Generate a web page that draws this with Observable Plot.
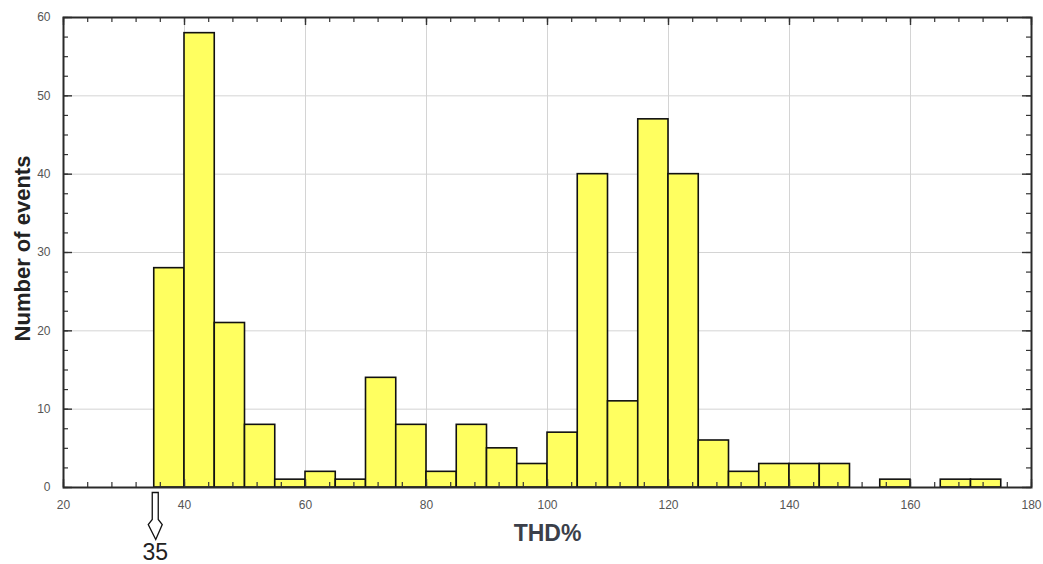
<!DOCTYPE html>
<html>
<head>
<meta charset="utf-8">
<script src="https://cdn.jsdelivr.net/npm/d3@7"></script>
<script src="https://cdn.jsdelivr.net/npm/@observablehq/plot@0.6"></script>
<style>
  html, body { margin: 0; padding: 0; background: #fff; }
</style>
</head>
<body>
<div id="chart"></div>
<script>
// ---- Data ----
const binStart = [35, 40, 45, 50, 55, 60, 65, 70, 75, 80, 85, 90, 95, 100, 105, 110, 115, 120, 125, 130, 135, 140, 145, 150, 155, 160, 165, 170];
const counts   = [28, 58, 21,  8,  1,  2,  1, 14,  8,  2,  8,  5,  3,   7,  40,  11,  47,  40,   6,   2,   3,   3,   3,   0,   1,   0,   1,   1];
const binWidth = 5;
const xTickLabels = [20, 40, 60, 80, 100, 120, 140, 160, 180];
const yTickLabels = [0, 10, 20, 30, 40, 50, 60];
const markedValue = 35;
const xTitle = "THD%";
const yTitle = "Number of events";

const bins = binStart
  .map((s, i) => ({x1: s, x2: s + binWidth, y: counts[i]}))
  .filter(d => d.y > 0);

const W = 1043, H = 564;
const mL = 63, mR = 12, mT = 17, mB = 77;
const fw = W - mL - mR, fh = H - mT - mB;

const xMinor = d3.range(20, 180.001, 4);
const yMinor = d3.range(0, 60.001, 2.5);

// hollow down arrow symbol (pixel shape around its anchor)
const hollowArrow = {
  draw(ctx) {
    ctx.moveTo(-3, -24);
    ctx.lineTo(3, -24);
    ctx.lineTo(3, 3);
    ctx.lineTo(7, 8);
    ctx.lineTo(0.5, 23);
    ctx.lineTo(-7, 8);
    ctx.lineTo(-3, 3);
    ctx.closePath();
  }
};

const tickStroke = "#333";

const chart = Plot.plot({
  width: W,
  height: H,
  marginLeft: mL,
  marginRight: mR,
  marginTop: mT,
  marginBottom: mB,
  style: {fontFamily: "'Liberation Sans', Arial, sans-serif", background: "#fff", overflow: "visible"},
  x: {domain: [20, 180]},
  y: {domain: [0, 60]},
  marks: [
    Plot.gridX(xTickLabels.filter(d => d > 20 && d < 180), {stroke: "#d4d4d4", strokeOpacity: 1, strokeWidth: 1}),
    Plot.gridY(yTickLabels.filter(d => d > 0 && d < 60), {stroke: "#d4d4d4", strokeOpacity: 1, strokeWidth: 1}),
    Plot.rectY(bins, {x1: "x1", x2: "x2", y: "y", fill: "#ffff60", stroke: "#111", strokeWidth: 1.6}),
    // inward minor ticks
    Plot.tickX(xMinor, {x: d => d, insetTop: fh - 5, stroke: tickStroke, strokeWidth: 1.2}),
    Plot.tickX(xMinor, {x: d => d, insetBottom: fh - 5, stroke: tickStroke, strokeWidth: 1.2}),
    Plot.tickY(yMinor, {y: d => d, insetRight: fw - 5, stroke: tickStroke, strokeWidth: 1.2}),
    Plot.tickY(yMinor, {y: d => d, insetLeft: fw - 5, stroke: tickStroke, strokeWidth: 1.2}),
    // inward major ticks
    Plot.tickX(xTickLabels, {x: d => d, insetTop: fh - 8, stroke: tickStroke, strokeWidth: 1.4}),
    Plot.tickX(xTickLabels, {x: d => d, insetBottom: fh - 8, stroke: tickStroke, strokeWidth: 1.4}),
    Plot.tickY(yTickLabels, {y: d => d, insetRight: fw - 9, stroke: tickStroke, strokeWidth: 1.4}),
    Plot.tickY(yTickLabels, {y: d => d, insetLeft: fw - 9, stroke: tickStroke, strokeWidth: 1.4}),
    Plot.frame({stroke: "#2a2a2a", strokeWidth: 2}),
    Plot.axisX(xTickLabels, {tickSize: 0, tickPadding: 13, label: null, fontSize: 12, color: "#555"}),
    Plot.axisY(yTickLabels, {tickSize: 0, tickPadding: 13, label: null, fontSize: 12, color: "#555"}),
    // axis titles
    Plot.text([xTitle], {frameAnchor: "bottom", textAnchor: "middle", lineAnchor: "middle", dy: 46, text: d => d, fontSize: 23, fontWeight: "bold", fill: "#3b3f4a"}),
    Plot.text([yTitle], {frameAnchor: "left", textAnchor: "middle", lineAnchor: "middle", dx: -41, dy: -4, rotate: -90, text: d => d, fontSize: 22, fontWeight: "bold", fill: "#222"}),
    // annotation arrow at 35
    Plot.dot([markedValue], {x: d => d, y: 0, dx: 1, dy: 29, symbol: hollowArrow, r: 5, fill: "#fff", stroke: "#111", strokeWidth: 1.3}),
    Plot.text([markedValue], {x: d => d, y: 0, dx: 1, dy: 65, text: d => String(d), fontSize: 23, fill: "#222", lineAnchor: "middle"})
  ]
});

document.getElementById("chart").appendChild(chart);
</script>
</body>
</html>
